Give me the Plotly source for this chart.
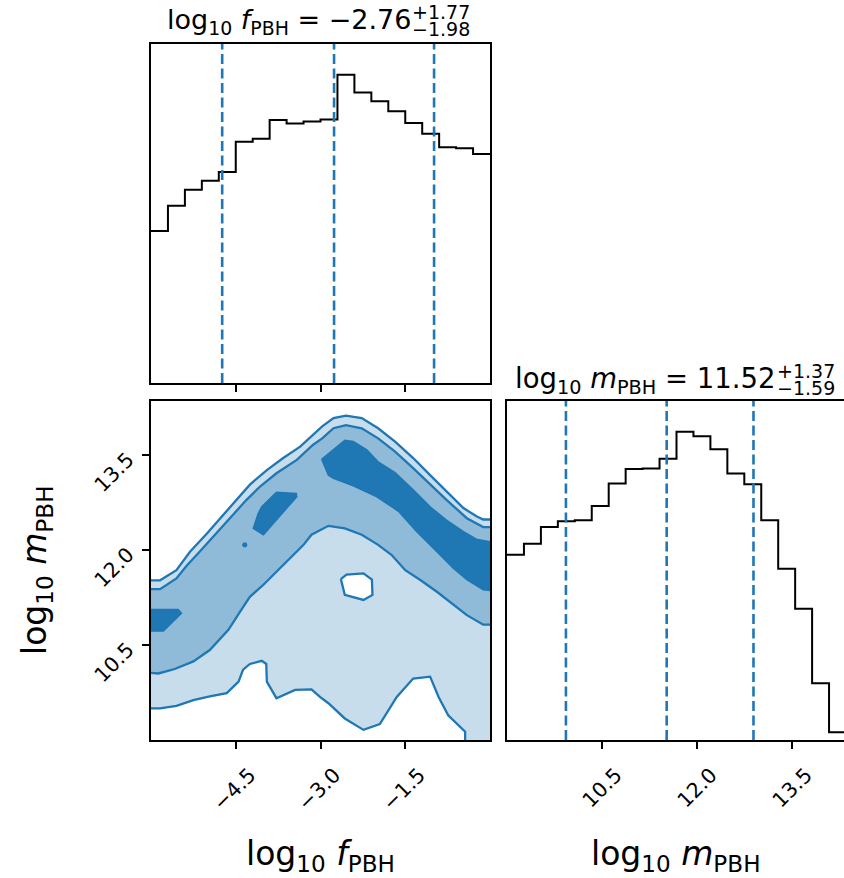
import numpy as np
import plotly.graph_objects as go

# ------------------------------------------------------------------ data
f_range = [-6.0, 0.0]            # log10 f_PBH sample range
m_range = [9.0, 14.35]           # log10 m_PBH sample range
n_bins = 20

f_counts = [455, 530, 578, 605, 631, 722, 731, 787, 776, 782,
            788, 922, 869, 843, 813, 778, 746, 705, 702, 685]
m_counts = [555, 588, 638, 655, 658, 701, 768, 812, 813, 842,
            923, 910, 871, 798, 766, 658, 513, 393, 170, 23]

f_quantiles = [-4.74, -2.76, -0.99]
m_quantiles = [9.93, 11.52, 12.89]

f_title = ["−2.76", "+1.77", "−1.98"]
m_title = ["11.52", "+1.37", "−1.59"]

f_ticks = [-4.5, -3.0, -1.5]
f_tick_text = ["−4.5", "−3.0", "−1.5"]
m_ticks = [10.5, 12.0, 13.5]
m_tick_text = ["10.5", "12.0", "13.5"]

# 2D credible-region contours (data coordinates)
outer_top_x = [-6.0, -5.84, -5.55, -5.31, -5.01, -4.72, -4.48, -4.25, -3.95, -3.66, -3.36, -3.07, -2.97,
               -2.77, -2.55, -2.27, -1.98, -1.68, -1.36, -1.06, -0.77, -0.47, -0.24, -0.12, 0.0]
outer_top_y = [11.52, 11.52, 11.68, 11.97, 12.26, 12.55, 12.79, 13.03, 13.26, 13.45, 13.63, 13.87, 13.95,
               14.08, 14.12, 14.08, 13.92, 13.71, 13.45, 13.18, 12.92, 12.66, 12.53, 12.48, 12.48]

outer_bottom_x = [-6.0, -5.84, -5.55, -5.25, -4.96, -4.66, -4.45, -4.37, -4.25, -4.04, -3.96, -3.95, -3.78,
                  -3.45, -3.16, -3.01, -2.86, -2.57, -2.24, -1.95, -1.65, -1.36, -1.06, -0.91, -0.74, -0.44, -0.44]
outer_bottom_y = [9.50, 9.50, 9.54, 9.63, 9.69, 9.74, 9.92, 10.11, 10.20, 10.25, 10.20, 9.92, 9.66,
                  9.79, 9.80, 9.68, 9.58, 9.34, 9.16, 9.25, 9.68, 9.97, 10.00, 9.68, 9.39, 9.13, 9.0]

inner_top_x = [-6.0, -5.84, -5.55, -5.37, -5.16, -4.84, -4.54, -4.31, -4.07, -3.78, -3.42, -3.13, -2.97,
               -2.77, -2.55, -2.27, -1.98, -1.68, -1.36, -1.06, -0.77, -0.41, -0.12, 0.0]
inner_top_y = [11.38, 11.38, 11.55, 11.75, 11.95, 12.26, 12.55, 12.79, 13.00, 13.21, 13.42, 13.66, 13.76,
               13.92, 13.97, 13.92, 13.76, 13.55, 13.29, 13.03, 12.79, 12.50, 12.36, 12.36]

inner_bottom_x = [-6.0, -5.87, -5.58, -5.25, -4.96, -4.63, -4.42, -4.25, -4.01, -3.75, -3.60, -3.30, -3.16,
                  -2.86, -2.57, -2.27, -1.98, -1.74, -1.50, -1.24, -0.94, -0.65, -0.41, -0.12, 0.0]
inner_bottom_y = [10.06, 10.05, 10.12, 10.24, 10.42, 10.74, 11.03, 11.26, 11.45, 11.68, 11.80, 12.08, 12.24,
                  12.38, 12.34, 12.24, 12.08, 11.92, 11.68, 11.53, 11.34, 11.13, 10.97, 10.82, 10.82]

hole_x = [-2.64, -2.57, -2.24, -2.08, -2.09, -2.24, -2.54, -2.64]
hole_y = [11.54, 11.29, 11.21, 11.29, 11.53, 11.63, 11.61, 11.54]

dark_left_x = [-6.0, -5.52, -5.46, -5.78, -6.0, -6.0]
dark_left_y = [11.06, 11.06, 11.00, 10.72, 10.72, 11.06]

dark_mid_x = [-3.78, -3.43, -3.42, -4.01, -4.19, -4.10, -4.04, -3.78]
dark_mid_y = [12.91, 12.89, 12.84, 12.24, 12.34, 12.58, 12.68, 12.91]

dark_dot_x = [-4.305, -4.32, -4.36, -4.375, -4.36, -4.32, -4.305]
dark_dot_y = [12.08, 12.105, 12.105, 12.08, 12.055, 12.055, 12.08]

dark_band_x = [-2.98, -2.68, -2.57, -2.42, -2.18, -1.98, -1.68, -1.36, -1.06, -0.77, -0.47, -0.24, 0.0,
               0.0, -0.12, -0.41, -0.65, -0.94, -1.30, -1.62, -2.01, -2.42, -2.77, -2.86, -2.98]
dark_band_y = [13.43, 13.66, 13.73, 13.71, 13.58, 13.39, 13.22, 12.95, 12.68, 12.47, 12.29, 12.17, 12.13,
               11.36, 11.37, 11.53, 11.71, 11.97, 12.29, 12.61, 12.84, 13.01, 13.13, 13.18, 13.43]

# ------------------------------------------------------------------ style
BLUE = "#1f77b4"
LIGHT = "rgb(199,221,236)"
MEDIUM = "rgb(143,187,217)"
FONT = "DejaVu Sans"
W, H = 844, 878

f_edges = np.linspace(f_range[0], f_range[1], n_bins + 1)
m_edges = np.linspace(m_range[0], m_range[1], n_bins + 1)

fig = go.Figure()


def step(edges, counts, xa, ya):
    fig.add_trace(go.Scatter(x=list(edges), y=list(counts) + [counts[-1]], mode="lines",
                             line=dict(color="black", width=2, shape="hv"),
                             xaxis=xa, yaxis=ya, hoverinfo="skip"))


def vlines(qs, top, xa, ya):
    for q in qs:
        fig.add_trace(go.Scatter(x=[q, q], y=[0, top], mode="lines",
                                 line=dict(color=BLUE, width=2.6, dash="10px,4.5px"),
                                 xaxis=xa, yaxis=ya, hoverinfo="skip"))


def poly(xs, ys, color, lw=0):
    fig.add_trace(go.Scatter(x=xs, y=ys, mode="lines", fill="toself", fillcolor=color,
                             line=dict(color=BLUE if lw else color, width=lw),
                             xaxis="x2", yaxis="y2", hoverinfo="skip"))


def line(xs, ys):
    fig.add_trace(go.Scatter(x=xs, y=ys, mode="lines", line=dict(color=BLUE, width=2.3),
                             xaxis="x2", yaxis="y2", hoverinfo="skip"))


# 1D histograms
f_top = 1.1 * max(f_counts)
m_top = 1.1 * max(m_counts)
step(f_edges, f_counts, "x", "y")
vlines(f_quantiles, f_top, "x", "y")
step(m_edges, m_counts, "x3", "y3")
vlines(m_quantiles, m_top, "x3", "y3")

# 2D filled contours
light_x = outer_top_x + [f_range[1]] + outer_bottom_x[::-1]
light_y = outer_top_y + [m_range[0]] + outer_bottom_y[::-1]
poly(light_x, light_y, LIGHT)
poly(hole_x, hole_y, "white")
medium_x = inner_top_x + inner_bottom_x[::-1]
medium_y = inner_top_y + inner_bottom_y[::-1]
poly(medium_x, medium_y, MEDIUM)
for dx, dy in [(dark_left_x, dark_left_y), (dark_mid_x, dark_mid_y),
               (dark_dot_x, dark_dot_y), (dark_band_x, dark_band_y)]:
    poly(dx, dy, BLUE, lw=1.5)
for lx, ly in [(outer_top_x, outer_top_y), (outer_bottom_x, outer_bottom_y),
               (inner_top_x, inner_top_y), (inner_bottom_x, inner_bottom_y), (hole_x, hole_y)]:
    line(lx, ly)

# ------------------------------------------------------------------ axes
left_dom = [151 / W, 490 / W]
right_dom = [507 / W, 1.0]
top_dom = [1 - 383 / H, 1 - 44 / H]
bot_dom = [1 - 740 / H, 1 - 401 / H]
px_per_unit = (740 - 401) / (m_range[1] - m_range[0])

common = dict(showgrid=False, zeroline=False, showline=True, linecolor="black", linewidth=1.8,
              ticks="outside", ticklen=7, tickwidth=1.8, tickcolor="black",
              tickfont=dict(family=FONT, size=20.5, color="black"))

fig.update_layout(
    width=W, height=H, margin=dict(l=0, r=0, t=0, b=0),
    plot_bgcolor="white", paper_bgcolor="white", showlegend=False,
    font=dict(family=FONT, color="black"),
    xaxis=dict(domain=left_dom, anchor="y", range=f_range, tickvals=f_ticks,
               showticklabels=False, mirror=True, **common),
    yaxis=dict(domain=top_dom, anchor="x", range=[0, f_top], showticklabels=False,
               mirror=True, **{**common, "ticks": ""}),
    xaxis2=dict(domain=left_dom, anchor="y2", range=f_range, tickvals=f_ticks,
                ticktext=f_tick_text, tickangle=-45, mirror=True,
                ticklabelshift=14, ticklabelstandoff=6, **common),
    yaxis2=dict(domain=bot_dom, anchor="x2", range=m_range, tickvals=m_ticks,
                ticktext=m_tick_text, tickangle=-45, mirror=True,
                ticklabelstandoff=10, ticklabelshift=2, **common),
    xaxis3=dict(domain=right_dom, anchor="y3",
                range=[m_range[0], m_range[0] + (W - 507) / px_per_unit],
                tickvals=m_ticks, ticktext=m_tick_text, tickangle=-45, mirror=True,
                ticklabelshift=14, ticklabelstandoff=6, **common),
    yaxis3=dict(domain=bot_dom, anchor="x3", range=[0, m_top], showticklabels=False,
                mirror=False, **{**common, "ticks": ""}),
)

# ------------------------------------------------------------------ titles & labels
ann = []


def txt(text, x, y, size, xanchor="center", yanchor="middle", angle=0):
    ann.append(dict(text=text, x=x / W, y=1 - y / H, xref="paper", yref="paper",
                    xanchor=xanchor, yanchor=yanchor, showarrow=False, textangle=angle,
                    borderpad=0, font=dict(family=FONT, size=size, color="black")))


# titles: main part + stacked super/subscript
txt("log<sub>10</sub> <i>f</i><sub>PBH</sub> = " + f_title[0], 412, 22, 27, xanchor="right")
txt(f_title[1], 411, 12, 19, xanchor="left")
txt(f_title[2], 411, 29, 19, xanchor="left")
txt("log<sub>10</sub> <i>m</i><sub>PBH</sub> = " + m_title[0], 777, 380, 27.5, xanchor="right")
txt(m_title[1], 776, 371, 19, xanchor="left")
txt(m_title[2], 776, 388, 19, xanchor="left")

# axis labels
txt("log<sub>10</sub> <i>f</i><sub>PBH</sub>", 320.5, 855, 33)
txt("log<sub>10</sub> <i>m</i><sub>PBH</sub>", 676, 855, 33)
txt("log<sub>10</sub> <i>m</i><sub>PBH</sub>", 36, 570, 33, angle=-90)

fig.update_layout(annotations=ann)
fig.write_html("out.html")
